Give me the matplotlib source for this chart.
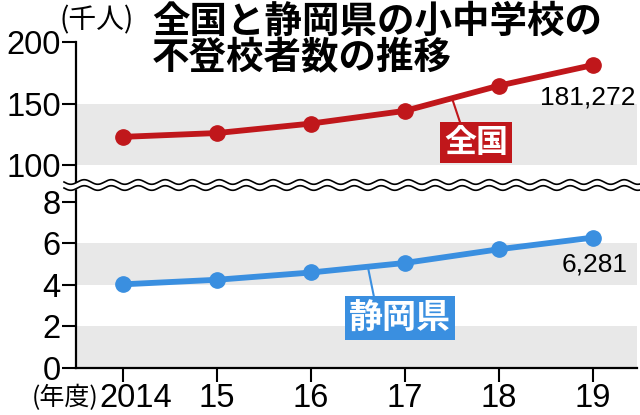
import matplotlib
matplotlib.use("Agg")
import matplotlib.pyplot as plt
import matplotlib.transforms as mtransforms
import numpy as np

years = ["2014", "15", "16", "17", "18", "19"]
national = [122.897, 125.991, 133.683, 144.031, 164.528, 181.272]   # thousand persons
shizuoka = [4.03, 4.25, 4.60, 5.06, 5.72, 6.281]                   # thousand persons
top_ticks = [100, 150, 200]
bottom_ticks = [0, 2, 4, 6, 8]
title_lines = ["全国と静岡県の小中学校の", "不登校者数の推移"]
unit_label = "(千人)"
year_label = "(年度)"
nat_label = "全国"
shz_label = "静岡県"
nat_last = "181,272"
shz_last = "6,281"

RED = "#C0171B"
BLUE = "#3A8FE0"
GREY = "#E8E8E8"
CJK = ["Noto Sans CJK JP", "DejaVu Sans"]
NUM = ["Liberation Sans", "DejaVu Sans"]

W, H = 640, 415
fig = plt.figure(figsize=(W / 100, H / 100), dpi=100)

def fr(x0, y0, x1, y1):
    return [x0 / W, 1 - y1 / H, (x1 - x0) / W, (y1 - y0) / H]

x = np.arange(len(years))
xlim = (-0.5, 5.468)

# top axes (national)
axt = fig.add_axes(fr(76, 42, 637, 182))
axt.set_xlim(*xlim)
axt.set_ylim(86.2, 200)
axt.axhspan(100, 150, color=GREY, zorder=0, lw=0)
axt.plot(x, national, color=RED, lw=4.2, marker="o", ms=11, zorder=3)
for s in ["top", "right", "bottom"]:
    axt.spines[s].set_visible(False)
axt.spines["left"].set_linewidth(1.6)
axt.set_yticks(top_ticks)
axt.set_xticks([])
axt.tick_params(axis="y", length=10, width=1.5, pad=1, labelsize=23.5)
for lab in axt.get_yticklabels():
    lab.set_family(NUM)

# bottom axes (Shizuoka)
axb = fig.add_axes(fr(76, 188, 637, 368))
axb.set_xlim(*xlim)
axb.set_ylim(0, 8.67)
axb.axhspan(0, 2, color=GREY, zorder=0, lw=0)
axb.axhspan(4, 6, color=GREY, zorder=0, lw=0)
axb.plot(x, shizuoka, color=BLUE, lw=4.2, marker="o", ms=11, zorder=3)
for s in ["top", "right"]:
    axb.spines[s].set_visible(False)
axb.spines["left"].set_linewidth(1.6)
axb.spines["bottom"].set_linewidth(1.6)
axb.set_yticks(bottom_ticks)
axb.set_xticks(x)
axb.set_xticklabels(years)
axb.tick_params(axis="both", length=10, width=1.5, labelsize=23.5)
axb.tick_params(axis="y", pad=1)
axb.tick_params(axis="x", pad=1)
for lab in axb.get_yticklabels() + axb.get_xticklabels():
    lab.set_family(NUM)
first = axb.get_xticklabels()[0]
first.set_transform(first.get_transform() +
                    mtransforms.ScaledTranslation(13 / 100, 0, fig.dpi_scale_trans))

# value annotations
axt.text(5.457, 149.6, nat_last, ha="right", va="baseline", fontsize=19,
         family=NUM, zorder=5)
axb.text(5.372, 4.67, shz_last, ha="right", va="baseline", fontsize=19,
         family=NUM, zorder=5)

# series label boxes with leaders
axt.plot([3.51, 3.606], [152.0, 130.0], color=RED, lw=1.5, zorder=2)
axt.text(3.755, 118.3, nat_label, ha="center", va="center", fontsize=23,
         fontweight="bold", color="white", family=CJK, zorder=4,
         bbox=dict(boxstyle="square,pad=0.13", fc=RED, ec="none"))
axb.plot([2.606, 2.68], [4.85, 3.2], color=BLUE, lw=1.5, zorder=2)
axb.text(2.947, 2.41, shz_label, ha="center", va="center", fontsize=24.5,
         fontweight="bold", color="white", family=CJK, zorder=4,
         bbox=dict(boxstyle="square,pad=0.12", fc=BLUE, ec="none"))

# titles / units
fig.text(152 / W, 1 - 2 / H, title_lines[0], ha="left", va="top", fontsize=27,
         fontweight="bold", family=CJK)
fig.text(152 / W, 1 - 38 / H, title_lines[1], ha="left", va="top", fontsize=27,
         fontweight="bold", family=CJK)
fig.text(60 / W, 1 - 20 / H, unit_label, ha="left", va="center", fontsize=20,
         family=CJK)
fig.text(98 / W, 1 - 398 / H, year_label, ha="right", va="center", fontsize=18,
         family=CJK)

# axis-break waves
ov = fig.add_axes([0, 0, 1, 1], zorder=10)
ov.set_xlim(0, W)
ov.set_ylim(H, 0)
ov.axis("off")
ov.patch.set_alpha(0)
wx = np.linspace(64, 640, 800)
wave = 2.3 * np.sin(2 * np.pi * (wx - 64) / 27.0)
ov.fill_between(wx, 182 + wave, 188 + wave, color="white", lw=0)
ov.plot(wx, 182 + wave, color="black", lw=1.2)
ov.plot(wx, 188 + wave, color="black", lw=1.2)

fig.savefig("out.png", dpi=100)
